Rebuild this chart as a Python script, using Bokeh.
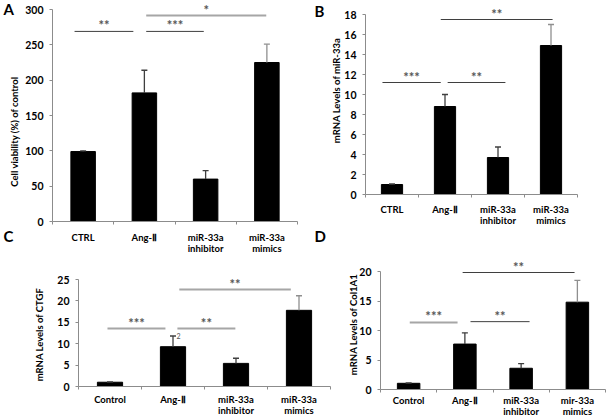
import math
from bokeh.plotting import figure
from bokeh.models import FixedTicker, Label, ColumnDataSource, Whisker, TeeHead, Range1d
from bokeh.layouts import row, column
from bokeh.embed import file_html
from bokeh.resources import INLINE
from bokeh.core.properties import value

# ---------------- data ----------------
cats_a = ["CTRL", "Ang-Ⅱ", "miR-33a\ninhibitor", "miR-33a\nmimics"]
cats_b = ["CTRL", "Ang-Ⅱ", "miR-33a\ninhibitor", "miR-33a\nmimics"]
cats_c = ["Control", "Ang-Ⅱ", "miR-33a\ninhibitor", "miR-33a\nmimics"]
cats_d = ["Control", "Ang-Ⅱ", "miR-33a\ninhibitor", "mir-33a\nmimics"]

a_vals = [99, 182, 60, 225]
a_err = [1, 32, 12, 26]
b_vals = [1.0, 8.8, 3.7, 14.9]
b_err = [0.05, 1.2, 1.05, 2.1]
c_vals = [1.0, 9.3, 5.4, 17.8]
c_err = [0.05, 2.5, 1.2, 3.4]
d_vals = [1.05, 7.7, 3.6, 14.8]
d_err = [0.05, 1.9, 0.8, 3.7]

a_ticks = [0, 50, 100, 150, 200, 250, 300]
b_ticks = [0, 2, 4, 6, 8, 10, 12, 14, 16, 18]
c_ticks = [0, 5, 10, 15, 20, 25]
d_ticks = [0, 5, 10, 15, 20]

a_ylabel = "Cell viability (%) of control"
b_ylabel = "mRNA Levels of miR-33a"
c_ylabel = "mRNA Levels of CTGF"
d_ylabel = "mRNA Levels of Col1A1"

# significance brackets: start, end (category units), level, label
a_sig_x0 = [-0.14, 1.03, 1.03]
a_sig_x1 = [0.82, 1.97, 2.99]
a_sig_y = [269, 269, 291.5]
a_sig_txt = ["**", "***", "*"]
b_sig_x0 = [-0.18, 1.05, 0.92]
b_sig_x1 = [0.92, 2.14, 3.03]
b_sig_y = [11.2, 11.2, 17.5]
b_sig_txt = ["***", "**", "**"]
c_sig_x0 = [-0.04, 1.07, 1.10]
c_sig_x1 = [0.88, 1.99, 2.87]
c_sig_y = [13.55, 13.55, 22.66]
c_sig_txt = ["***", "**", "**"]
d_sig_x0 = [0.02, 1.10, 0.96]
d_sig_x1 = [0.87, 2.15, 2.95]
d_sig_y = [11.36, 11.5, 19.83]
d_sig_txt = ["***", "**", "**"]

# ---------------- styling / layout ----------------
FONT = "Lato"
AXIS_GRAY = "#8c8c8c"
DARK = "#3f3f3f"
LIGHT = "#a6a6a6"

a_sig_style = [(DARK, 1), (DARK, 1), (LIGHT, 2)]
b_sig_style = [(DARK, 1), (DARK, 1), (DARK, 1)]
c_sig_style = [(LIGHT, 2), (LIGHT, 2), (LIGHT, 2)]
d_sig_style = [(LIGHT, 2), (DARK, 1), (DARK, 1)]
err_colors = [DARK, DARK, DARK, "#8f8f8f"]

# geometry in page pixels: figure box, plot-area left/right, y of 0 and of top tick,
# and the gap between the category labels and the axis
geom_a = dict(box=(0, 0, 303, 258), fl=52, fr=297, y0=221, yt=9, std=7)
geom_b = dict(box=(303, 0, 606, 258), fl=365, fr=577, y0=194, yt=14, std=6)
geom_c = dict(box=(0, 258, 340, 418), fl=78, fr=330, y0=386, yt=279, std=4)
geom_d = dict(box=(340, 258, 606, 418), fl=380, fr=605, y0=389, yt=271, std=2)


def make_panel(g, cats, vals, errs, yticks, ylabel_txt, ylabel_pos,
               sx0, sx1, sy, stxt, sstyle, letters):
    x0, y0, x1, y1 = g["box"]
    W, H = x1 - x0, y1 - y0
    fl = g["fl"] - x0
    fr = g["fr"] - x0
    fb = g["y0"] - y0
    ttop = g["yt"] - y0
    n = len(cats)
    ymax = yticks[-1]
    kx = (fr - fl) / n              # px per category
    ky = (fb - ttop) / ymax         # px per y unit
    xr = Range1d(-0.5 - fl / kx, -0.5 + (W - fl) / kx)
    yr = Range1d(-(H - fb) / ky, ymax + ttop / ky)

    def to_data(px, py):
        return (-0.5 + (px - x0 - fl) / kx, (fb - (py - y0)) / ky)

    p = figure(width=W, height=H, x_range=xr, y_range=yr,
               output_backend="svg", toolbar_location=None,
               min_border_left=0, min_border_right=0,
               min_border_top=0, min_border_bottom=0)
    p.xgrid.visible = False
    p.ygrid.visible = False
    p.outline_line_color = None
    p.background_fill_color = "white"
    p.border_fill_color = "white"

    xa = p.xaxis[0]
    xa.fixed_location = 0
    xa.bounds = (-0.5, n - 0.5)
    xa.ticker = FixedTicker(ticks=list(range(n)),
                            minor_ticks=[i - 0.5 for i in range(n + 1)])
    xa.major_label_overrides = {i: c for i, c in enumerate(cats)}
    xa.major_tick_line_color = None
    xa.major_tick_out = 3
    xa.major_tick_in = 0
    xa.minor_tick_out = 3
    xa.minor_tick_in = 0
    xa.minor_tick_line_color = AXIS_GRAY
    xa.axis_line_color = AXIS_GRAY
    xa.major_label_text_font = FONT
    xa.major_label_text_font_style = "bold"
    xa.major_label_text_font_size = "9.5px"
    xa.major_label_text_line_height = 1.05
    xa.major_label_text_color = "black"
    xa.major_label_standoff = g["std"]

    ya = p.yaxis[0]
    ya.fixed_location = -0.5
    ya.ticker = FixedTicker(ticks=yticks)
    ya.bounds = (0, ymax)
    ya.major_tick_out = 3
    ya.major_tick_in = 0
    ya.minor_tick_line_color = None
    ya.major_tick_line_color = AXIS_GRAY
    ya.axis_line_color = AXIS_GRAY
    ya.major_label_text_font = FONT
    ya.major_label_text_font_style = "bold"
    ya.major_label_text_font_size = "10.5px"
    ya.major_label_text_color = "black"
    ya.major_label_standoff = 6

    src = ColumnDataSource(dict(x=list(range(n)), top=vals,
                                upper=[v + e for v, e in zip(vals, errs)],
                                ec=err_colors))
    p.add_layout(Whisker(source=src, base="x", upper="upper", lower="top",
                         line_color="ec", line_width=1.3,
                         upper_head=TeeHead(size=6, line_color="ec", line_width=1.3),
                         lower_head=None, level="overlay"))
    p.vbar(x="x", top="top", width=0.4, source=src, fill_color="black", line_color="black")

    ssrc = ColumnDataSource(dict(x0=sx0, x1=sx1, y=sy, t=stxt,
                                 xm=[(a + b) / 2 for a, b in zip(sx0, sx1)],
                                 c=[s[0] for s in sstyle], w=[s[1] for s in sstyle]))
    p.segment(x0="x0", y0="y", x1="x1", y1="y", line_color="c", line_width="w", source=ssrc)
    p.text(x="xm", y="y", text="t", source=ssrc, text_font=value(FONT), text_font_style="bold",
           text_font_size="13px", text_align="center", text_baseline="bottom",
           y_offset=2, text_color="#555555")

    lx, ly = to_data(*ylabel_pos)
    p.add_layout(Label(x=lx, y=ly, text=ylabel_txt, angle=math.pi / 2,
                       text_align="center", text_baseline="middle",
                       text_font=FONT, text_font_style="bold", text_font_size="9.5px",
                       text_color="black"))
    for (txt, px, py) in letters:
        qx, qy = to_data(px, py)
        p.add_layout(Label(x=qx, y=qy, text=txt, text_align="left", text_baseline="top",
                           text_font=FONT, text_font_style="bold", text_font_size="15px",
                           text_color="black"))
    return p, to_data


pa, _ = make_panel(geom_a, cats_a, a_vals, a_err, a_ticks, a_ylabel, (14, 131),
                   a_sig_x0, a_sig_x1, a_sig_y, a_sig_txt, a_sig_style,
                   [("A", 3, -1), ("C", 3, 226)])
pb, _ = make_panel(geom_b, cats_b, b_vals, b_err, b_ticks, b_ylabel, (336, 90),
                   b_sig_x0, b_sig_x1, b_sig_y, b_sig_txt, b_sig_style,
                   [("B", 314, 1), ("D", 314, 226)])
pc, c_to_data = make_panel(geom_c, cats_c, c_vals, c_err, c_ticks, c_ylabel, (39, 334),
                           c_sig_x0, c_sig_x1, c_sig_y, c_sig_txt, c_sig_style, [])
pd, _ = make_panel(geom_d, cats_d, d_vals, d_err, d_ticks, d_ylabel, (353, 324),
                   d_sig_x0, d_sig_x1, d_sig_y, d_sig_txt, d_sig_style, [])

# small stray "2" beside the Ang-II error bar cap in panel C
tx, ty = c_to_data(176, 335)
pc.add_layout(Label(x=tx, y=ty, text="2", text_align="left", text_baseline="middle",
                    text_font=FONT, text_font_size="7px", text_color="#555555"))

layout = column(row(pa, pb), row(pc, pd))
open("out.html", "w").write(file_html(layout, INLINE))
